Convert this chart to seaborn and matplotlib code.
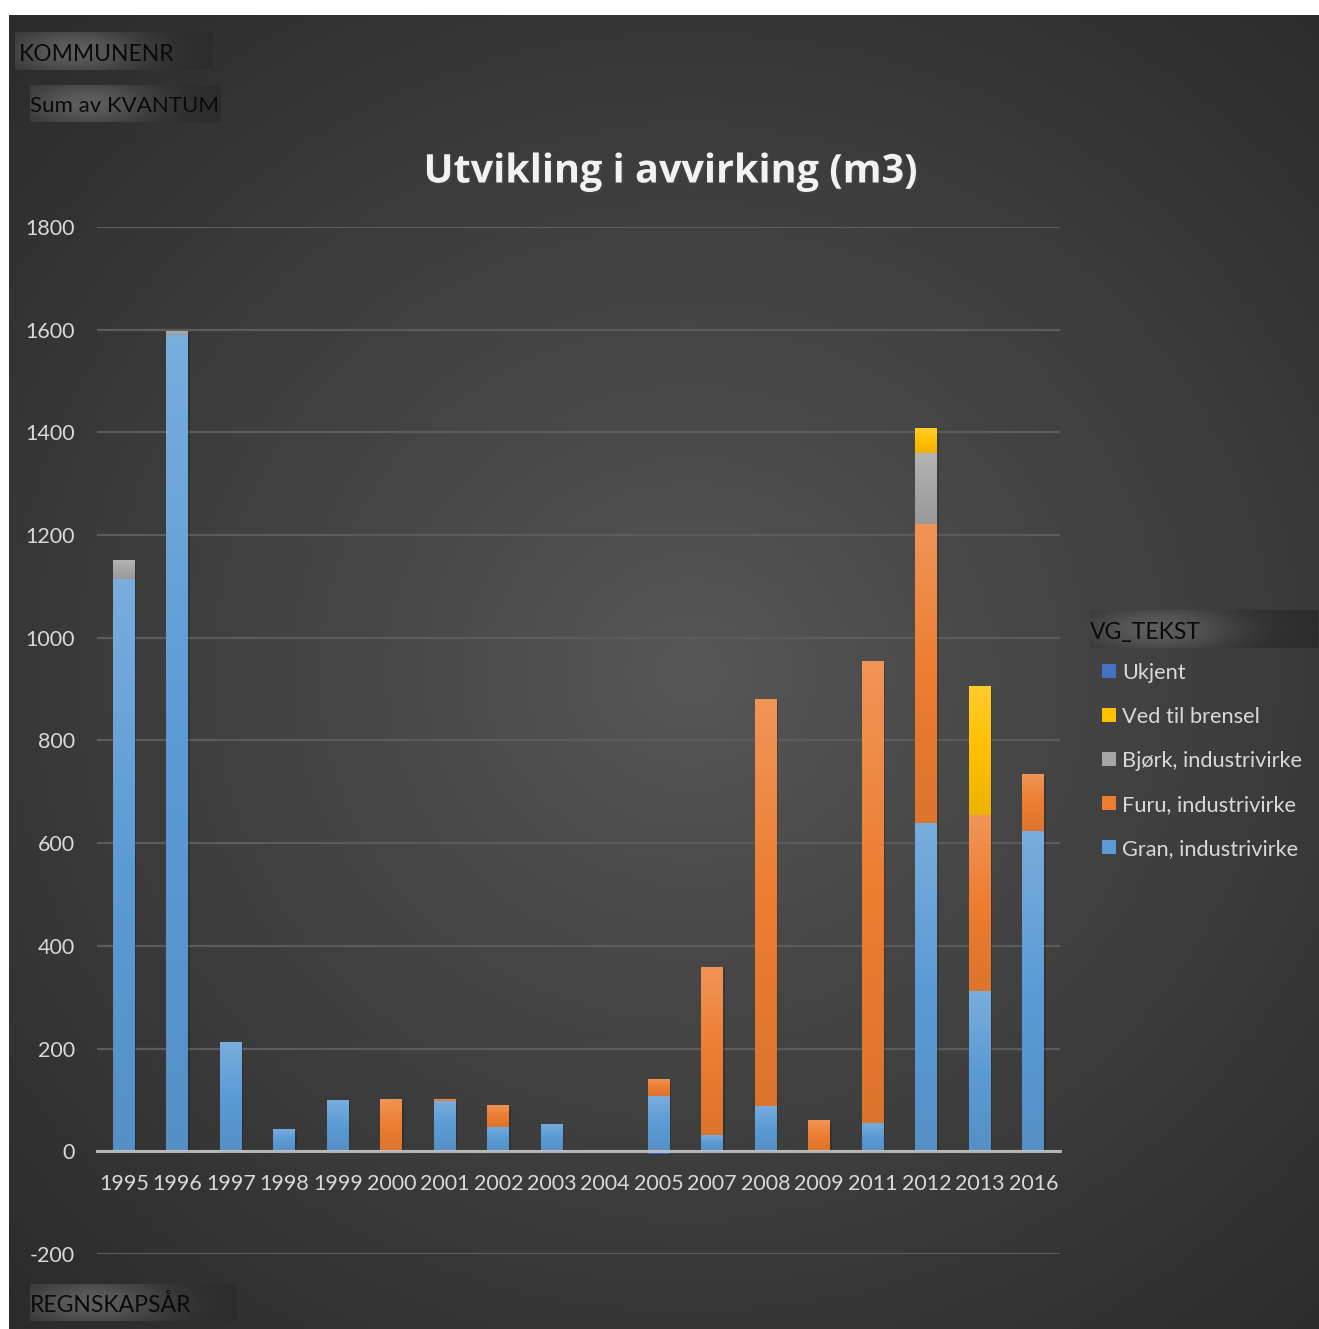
import matplotlib.pyplot as plt
import matplotlib.patches as mpatches
import matplotlib.patheffects as pe
from matplotlib.colors import LinearSegmentedColormap, to_rgb
import numpy as np
import seaborn as sns

sns.set_theme(style='dark')
plt.rcParams['font.family'] = ['Lato', 'DejaVu Sans']
plt.rcParams['axes.unicode_minus'] = False

W, H = 1319, 1329

years = ['1995', '1996', '1997', '1998', '1999', '2000', '2001', '2002', '2003',
         '2004', '2005', '2007', '2008', '2009', '2011', '2012', '2013', '2016']
gran = [1115, 1590, 212, 43, 99, 0, 98, 47, 53, 0, 107, 31, 88, 0, 55, 640, 313, 623]
furu = [0, 0, 0, 0, 0, 101, 3, 43, 0, 0, 34, 327, 793, 60, 900, 581, 341, 111]
bjork = [37, 8, 0, 0, 0, 0, 0, 0, 0, 0, 0, 0, 0, 0, 0, 139, 0, 0]
ved = [0, 0, 0, 0, 0, 0, 0, 0, 0, 0, 0, 0, 0, 0, 0, 48, 253, 0]
ukjent = [0, 0, 0, 0, 0, 0, 0, 0, 0, 0, -5, 0, 0, 0, 0, 0, 0, 0]

series_names = ['Gran, industrivirke', 'Furu, industrivirke', 'Bjørk, industrivirke',
                'Ved til brensel', 'Ukjent']
series_values = [gran, furu, bjork, ved, ukjent]
series_colors = ['#5b9bd5', '#ed7d31', '#a5a5a5', '#ffc000', '#4472c4']
yticks = list(range(-200, 1801, 200))


def mix(c, other, t):
    c = np.array(to_rgb(c))
    return tuple(c * (1 - t) + np.array(to_rgb(other)) * t)


def field_button(fig, x, y, w, h, label, fs, tx=0.02, ty=0.42):
    bax = fig.add_axes([x / W, 1 - (y + h) / H, w / W, h / H])
    u = np.linspace(0, 1, 200)[None, :]
    v = np.linspace(0, 1, 40)[:, None]
    glow = np.exp(-((u - 0.3) / 0.35) ** 2) * np.exp(-((v - 0.5) / 0.7) ** 2)
    lo, hi = np.array(to_rgb('#2c2c2c')), np.array(to_rgb('#5e5e5e'))
    img = lo + (hi - lo) * glow[..., None]
    bax.imshow(img, aspect='auto', extent=[0, 1, 0, 1])
    bax.set_xlim(0, 1)
    bax.set_ylim(0, 1)
    bax.axis('off')
    bax.text(tx, ty, label, transform=bax.transAxes, va='center', ha='left',
             color='#0a0a0a', fontsize=fs)


fig = plt.figure(figsize=(W / 100, H / 100), dpi=100)
fig.patch.set_facecolor('white')

# dark gradient background
bg = fig.add_axes([9 / W, 0, 1 - 9 / W, 1 - 15 / H])
gx = np.linspace(0, 1, 300)[None, :]
gy = np.linspace(0, 1, 300)[:, None]
d = np.sqrt(((gx - 0.52) / 0.75) ** 2 + ((gy - 0.5) / 0.7) ** 2)
t = np.clip(1 - d, 0, 1) ** 1.1
lo, hi = np.array(to_rgb('#2b2b2b')), np.array(to_rgb('#575757'))
bg.imshow(lo + (hi - lo) * t[..., None], aspect='auto', extent=[0, 1, 0, 1])
bg.axis('off')

ax = fig.add_axes([97 / W, (H - 1254) / H, (1060 - 97) / W, (1254 - 227) / H])
ax.set_facecolor('none')

pos = np.zeros(len(years))
for name, vals, col in zip(series_names, series_values, series_colors):
    vals = np.array(vals, dtype=float)
    bottoms = np.where(vals >= 0, pos, 0)
    sns.barplot(x=years, y=vals, order=years, bottom=bottoms, color=col, width=0.41,
                saturation=1, errorbar=None, ax=ax, zorder=3, linewidth=0)
    pos += np.clip(vals, 0, None)

# vertical gradient on each segment
for p in list(ax.patches):
    h = p.get_height()
    if h == 0:
        continue
    x0, w = p.get_x(), p.get_width()
    y0 = p.get_y()
    fc = p.get_facecolor()[:3]
    cmap = LinearSegmentedColormap.from_list('g', [mix(fc, 'black', 0.07), fc, mix(fc, 'white', 0.18)])
    grad = np.linspace(0, 1, 64)[:, None]
    ax.add_patch(mpatches.Rectangle((x0 + 0.03, y0 - 3), w, h, facecolor='black', alpha=0.18,
                                    lw=0, zorder=2))
    im = ax.imshow(grad, cmap=cmap, aspect='auto', origin='lower', zorder=3.5,
                   extent=[x0, x0 + w, min(y0, y0 + h), max(y0, y0 + h)])
    im.set_clip_path(p)

ax.set_xlim(-0.5, len(years) - 0.5)
ax.set_ylim(-200, 1800)
ax.set_yticks(yticks)
ax.yaxis.grid(True, color='#5c5c5c', lw=1.6, zorder=0)
ax.xaxis.grid(False)
for s in ['top', 'right', 'left']:
    ax.spines[s].set_visible(False)
ax.spines['bottom'].set_position(('data', 0))
ax.spines['bottom'].set_color('#c8c8c8')
ax.spines['bottom'].set_alpha(0.85)
ax.spines['bottom'].set_linewidth(2.2)
ax.spines['bottom'].set_zorder(5)
ax.tick_params(axis='y', length=0, pad=16, labelsize=15.5, labelcolor='#d9d9d9')
ax.tick_params(axis='x', length=0, pad=16, labelsize=15.5, labelcolor='#d9d9d9')
ax.set_xlabel('')
ax.set_ylabel('')

fig.text(671 / W, 1 - 172 / H, 'Utvikling i avvirking (m3)', ha='center', va='center',
         fontsize=28.5, fontweight='bold', color='#f2f2f2', family=['Open Sans', 'DejaVu Sans'],
         path_effects=[pe.withSimplePatchShadow(offset=(1.5, -1.5), alpha=0.5)])

# legend (stack order reversed)
handles = [mpatches.Patch(facecolor=c, edgecolor='none') for c in series_colors[::-1]]
leg = ax.legend(handles, series_names[::-1], loc='upper left',
                bbox_to_anchor=(1093 / W, 1 - 654 / H), bbox_transform=fig.transFigure,
                frameon=False, labelcolor='#d9d9d9', fontsize=15.7, handlelength=0.65,
                handleheight=0.65, handletextpad=0.3, labelspacing=1.1, borderaxespad=0)

field_button(fig, 15, 32, 198, 38, 'KOMMUNENR', 16.5, tx=0.02)
field_button(fig, 30, 85, 190, 37, 'Sum av KVANTUM', 16, tx=0.0)
field_button(fig, 30, 1284, 207, 37, 'REGNSKAPSÅR', 16.5, tx=0.0)
field_button(fig, 1090, 610, 228, 38, 'VG_TEKST', 16.5, tx=0.0)

fig.savefig('out.png', dpi=100)
